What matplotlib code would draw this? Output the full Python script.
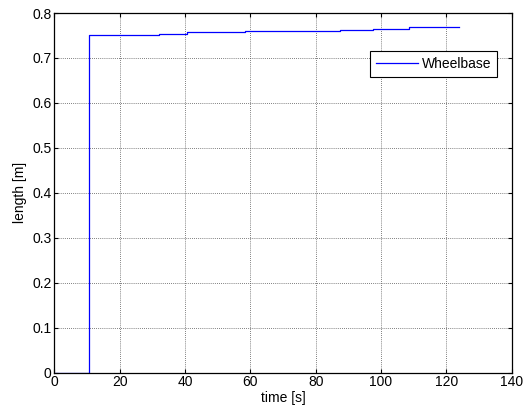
import matplotlib
matplotlib.use("Agg")
import matplotlib.pyplot as plt
import numpy as np

# Wheelbase length over time (piecewise constant)
time_s = [0, 10.5, 20.0, 32.0, 40.5, 58.4, 77.3, 87.5, 97.6, 108.6, 124.0]
wheelbase_m = [0.0, 0.750, 0.752, 0.754, 0.757, 0.759, 0.761, 0.763, 0.765, 0.768, 0.768]

x_ticks = [0, 20, 40, 60, 80, 100, 120, 140]
y_ticks = [0, 0.1, 0.2, 0.3, 0.4, 0.5, 0.6, 0.7, 0.8]
y_tick_labels = ["0", "0.1", "0.2", "0.3", "0.4", "0.5", "0.6", "0.7", "0.8"]

plt.rcParams['font.family'] = ['Liberation Sans', 'DejaVu Sans']
plt.rcParams['font.size'] = 10

fig = plt.figure(figsize=(5.23, 4.13), dpi=100)
ax = fig.add_axes([0.1042, 0.0976, 0.874, 0.8709])

ax.step(time_s, wheelbase_m, where='post', color='#0000ff', lw=0.9, label='Wheelbase')

ax.set_xlim(0, 140)
ax.set_ylim(0, 0.8)
ax.set_xticks(x_ticks)
ax.set_yticks(y_ticks)
ax.set_yticklabels(y_tick_labels)
ax.tick_params(direction='in', top=True, right=True, length=3, width=0.8, pad=2, labelsize=10)
ax.grid(True, color='#555555', linestyle=(0, (1, 1.5)), linewidth=0.6)
for s in ax.spines.values():
    s.set_linewidth(0.9)

ax.set_xlabel('time [s]', labelpad=1)
ax.set_ylabel('length [m]', labelpad=4)

leg = ax.legend(loc='upper right', bbox_to_anchor=(0.9676, 0.893), fancybox=False,
                edgecolor='black', framealpha=1, borderpad=0.4, handlelength=3.0,
                handletextpad=0.3, fontsize=10, borderaxespad=0)
leg.get_frame().set_linewidth(0.8)

fig.savefig('out.png', dpi=100)
